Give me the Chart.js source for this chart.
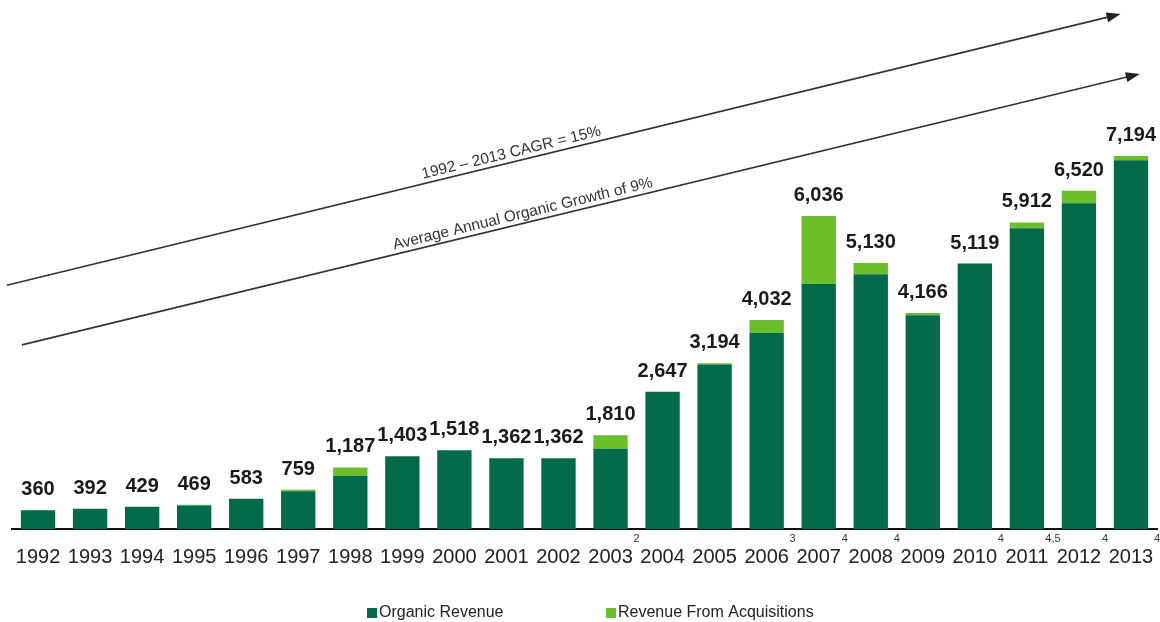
<!DOCTYPE html>
<html>
<head>
<meta charset="utf-8">
<script src="https://cdn.jsdelivr.net/npm/chart.js@4"></script>
<style>
  html, body { margin: 0; padding: 0; background: #fff; }
  #wrap { width: 1160px; height: 622px; }
</style>
</head>
<body>
<div id="wrap"><canvas id="revenueChart" width="1160" height="622"></canvas></div>
<script>
// 数据
const years = ['1992', '1993', '1994', '1995', '1996', '1997', '1998', '1999', '2000', '2001', '2002',
               '2003', '2004', '2005', '2006', '2007', '2008', '2009', '2010', '2011', '2012', '2013'];
const organicRevenue = [360, 392, 429, 454, 583, 729, 1027, 1403, 1518, 1362, 1362,
                        1545, 2647, 3174, 3777, 4725, 4910, 4121, 5119, 5797, 6280, 7109];
const acquisitionRevenue = [0, 0, 0, 15, 0, 30, 160, 0, 0, 0, 0,
                            265, 0, 20, 255, 1311, 220, 45, 0, 115, 240, 85];
const totalLabels = ['360', '392', '429', '469', '583', '759', '1,187', '1,403', '1,518', '1,362', '1,362',
                     '1,810', '2,647', '3,194', '4,032', '6,036', '5,130', '4,166', '5,119', '5,912', '6,520', '7,194'];
const footnotes = ['', '', '', '', '', '', '', '', '', '', '',
                   '2', '', '', '3', '4', '4', '', '4', '4,5', '4', '4'];
// 趋势箭头 (x: 类别索引, y: 数值)
const trendArrows = [
    { text: '1992 \u2013 2013 CAGR = 15%', from: [-0.6, 4700], to: [20.8, 9930], at: 0.455 },
    { text: 'Average Annual Organic Growth of 9%', from: [-0.31, 3550], to: [21.17, 8775], at: 0.45 }
];

const FONT = "'Liberation Sans', Arial, sans-serif";

// 自定义绘制：数值标签、脚注、箭头、图例
const annotatePlugin = {
    id: 'annotate',
    afterDatasetsDraw(chart) {
        const ctx = chart.ctx;
        const x = chart.scales.x;
        const y = chart.scales.y;
        const half = (x.getPixelForValue(1) - x.getPixelForValue(0)) / 2;

        ctx.save();
        // 总计标签
        ctx.font = 'bold 20px ' + FONT;
        ctx.fillStyle = '#1a1a1a';
        ctx.textAlign = 'center';
        ctx.textBaseline = 'alphabetic';
        years.forEach(function(yr, i) {
            const top = y.getPixelForValue(organicRevenue[i] + acquisitionRevenue[i]);
            ctx.fillText(totalLabels[i], x.getPixelForValue(i), top - 15);
        });

        // 脚注
        ctx.font = '11px ' + FONT;
        ctx.fillStyle = '#333';
        ctx.textBaseline = 'middle';
        footnotes.forEach(function(f, i) {
            if (f) ctx.fillText(f, x.getPixelForValue(i) + half, chart.chartArea.bottom + 10);
        });

        // 趋势箭头
        trendArrows.forEach(function(a) {
            const x0 = x.getPixelForValue(a.from[0]), y0 = y.getPixelForValue(a.from[1]);
            const x1 = x.getPixelForValue(a.to[0]), y1 = y.getPixelForValue(a.to[1]);
            const ang = Math.atan2(y1 - y0, x1 - x0);
            ctx.strokeStyle = '#333';
            ctx.fillStyle = '#222';
            ctx.lineWidth = 1.6;
            ctx.beginPath();
            ctx.moveTo(x0, y0);
            ctx.lineTo(x1 - 10 * Math.cos(ang), y1 - 10 * Math.sin(ang));
            ctx.stroke();
            ctx.beginPath();
            ctx.moveTo(x1, y1);
            ctx.lineTo(x1 - 14 * Math.cos(ang) + 5 * Math.sin(ang), y1 - 14 * Math.sin(ang) - 5 * Math.cos(ang));
            ctx.lineTo(x1 - 14 * Math.cos(ang) - 5 * Math.sin(ang), y1 - 14 * Math.sin(ang) + 5 * Math.cos(ang));
            ctx.closePath();
            ctx.fill();

            const tx = x0 + (x1 - x0) * a.at, ty = y0 + (y1 - y0) * a.at;
            ctx.save();
            ctx.translate(tx, ty);
            ctx.rotate(ang);
            ctx.font = '15.5px ' + FONT;
            ctx.fillStyle = '#333';
            ctx.textAlign = 'center';
            ctx.textBaseline = 'alphabetic';
            ctx.fillText(a.text, 0, -5);
            ctx.restore();
        });

        // 图例
        ctx.font = '16px ' + FONT;
        ctx.textAlign = 'left';
        ctx.textBaseline = 'middle';
        const legendX = [367, 606];
        chart.data.datasets.forEach(function(ds, i) {
            ctx.fillStyle = ds.backgroundColor;
            ctx.fillRect(legendX[i], 608, 10, 10);
            ctx.fillStyle = '#222';
            ctx.fillText(ds.label, legendX[i] + 12, 613);
        });
        ctx.restore();
    }
};

document.addEventListener('DOMContentLoaded', function() {
    const ctx = document.getElementById('revenueChart').getContext('2d');
    new Chart(ctx, {
        type: 'bar',
        data: {
            labels: years,
            datasets: [{
                label: 'Organic Revenue',
                data: organicRevenue,
                backgroundColor: '#006a4a',
                barPercentage: 0.66,
                categoryPercentage: 1
            }, {
                label: 'Revenue From Acquisitions',
                data: acquisitionRevenue,
                backgroundColor: '#6abf2a',
                barPercentage: 0.66,
                categoryPercentage: 1
            }]
        },
        options: {
            responsive: false,
            animation: false,
            layout: { padding: { left: 12, right: 3, top: 0, bottom: 51 } },
            plugins: {
                legend: { display: false },
                tooltip: { enabled: false }
            },
            scales: {
                x: {
                    stacked: true,
                    // 隐藏刻度线，但保留刻度长度用于标签间距
                    grid: { display: false, drawTicks: true, tickLength: 14 },
                    border: { display: true, color: '#111', width: 2 },
                    ticks: {
                        color: '#222',
                        padding: 2,
                        maxRotation: 0,
                        autoSkip: false,
                        font: { family: FONT, size: 20 }
                    }
                },
                y: {
                    stacked: true,
                    display: false,
                    min: 0,
                    max: 10200
                }
            }
        },
        plugins: [annotatePlugin]
    });
});
</script>
</body>
</html>
